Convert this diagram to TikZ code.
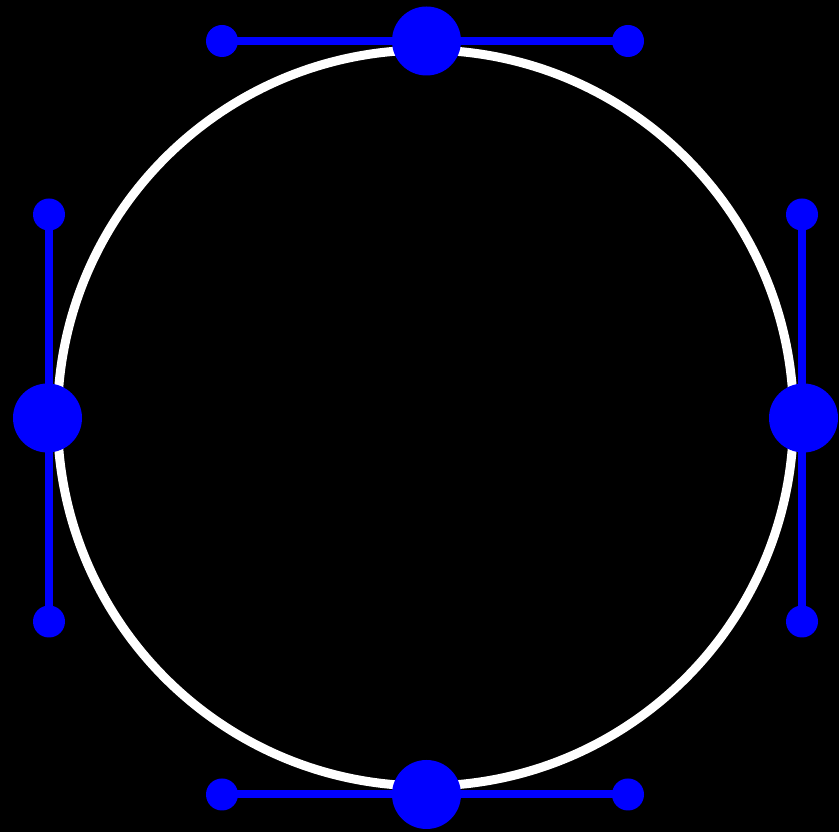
\documentclass[tikz,border=0pt]{standalone}
\begin{document}
\begin{tikzpicture}[x=1pt,y=1pt,
  bigdot/.style={circle,fill=blue,minimum size=69pt,inner sep=0pt},
  smalldot/.style={circle,fill=blue,minimum size=32pt,inner sep=0pt},
  handle/.style={draw=blue,line width=8pt}]
\fill[black] (0,0) rectangle (839,832);
\useasboundingbox (0,0) rectangle (839,832);
\coordinate (c) at (425.5,414);
\draw[white,line width=9pt] (c) circle [radius=368];
\node[bigdot] (top) at (426.5,791) {};
\node[bigdot] (bot) at (426.5,37.5) {};
\node[bigdot] (lft) at (47.5,414) {};
\node[bigdot] (rgt) at (803.5,414) {};
\node[smalldot] (tl) at (222,791) {};
\node[smalldot] (tr) at (628,791) {};
\node[smalldot] (bl) at (222,37.5) {};
\node[smalldot] (br) at (628,37.5) {};
\node[smalldot] (lu) at (49,617.5) {};
\node[smalldot] (ld) at (49,210.5) {};
\node[smalldot] (ru) at (802,617.5) {};
\node[smalldot] (rd) at (802,210.5) {};
\draw[handle] (tl.center) -- (tr.center);
\draw[handle] (bl.center) -- (br.center);
\draw[handle] (lu.center) -- (ld.center);
\draw[handle] (ru.center) -- (rd.center);
\end{tikzpicture}
\end{document}
